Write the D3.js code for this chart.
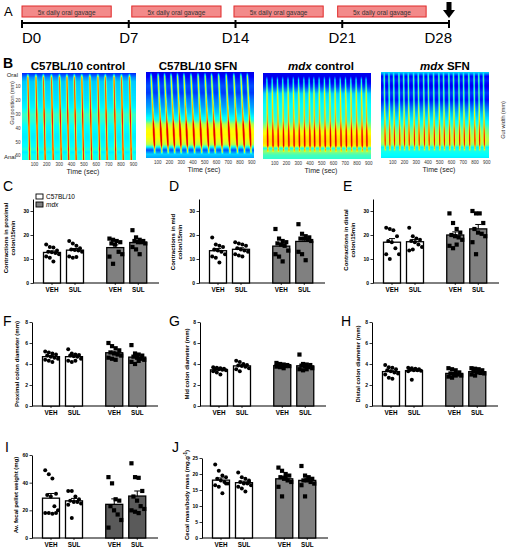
<!DOCTYPE html>
<html>
<head>
<meta charset="utf-8">
<script src="https://cdn.jsdelivr.net/npm/d3@7"></script>
<style>
  body { margin: 0; background: #fff; }
  svg { display: block; }
  text { font-family: "Liberation Sans", Arial, sans-serif; }
</style>
</head>
<body>
<svg id="fig" width="510" height="550"></svg>
<script>
// ---------- data ----------
// A: timeline (days)
const timelineDays = [0, 7, 14, 21, 28];
const gavageStart = [0, 7.2, 13.9, 20.7];
const gavageEnd = [5.85, 13.05, 19.75, 26.5];
const gavageText = '5x daily oral gavage';

// B: spatiotemporal maps
const mapTitles = ['C57BL/10 control', 'C57BL/10 SFN', 'mdx control', 'mdx SFN'];
const depthStops = [0, 3, 6, 10, 15, 20, 25, 30, 35, 38, 42, 46, 50, 53, 55, 57, 60, 63];
const profileWtCtl = [0.16, 0.26, 0.32, 0.33, 0.34, 0.35, 0.37, 0.43, 0.41, 0.38, 0.37, 0.36, 0.37, 0.38, 0.41, 0.36, 0.39, 0.39];
const profileWtSfn = [0.10, 0.12, 0.16, 0.20, 0.18, 0.24, 0.28, 0.33, 0.40, 0.55, 0.62, 0.63, 0.60, 0.55, 0.35, 0.20, 0.33, 0.28];
const profileMdxCtl = [0.11, 0.10, 0.10, 0.18, 0.33, 0.36, 0.38, 0.40, 0.43, 0.50, 0.60, 0.64, 0.66, 0.64, 0.38, 0.52, 0.44, 0.42];
const profileMdxSfn = [0.33, 0.12, 0.16, 0.10, 0.18, 0.13, 0.22, 0.30, 0.36, 0.40, 0.48, 0.53, 0.56, 0.52, 0.36, 0.40, 0.38, 0.36];
const contrWtCtl = [45, 110, 170, 235, 300, 360, 420, 480, 545, 610, 670, 740, 800, 865];
const contrWtSfn = [40, 100, 155, 210, 265, 320, 380, 440, 500, 555, 615, 680, 745, 805, 860];
const contrMdxCtl = [30, 75, 120, 165, 210, 255, 300, 345, 390, 430, 475, 520, 565, 610, 655, 700, 745, 790, 835, 875];
const contrMdxSfn = [25, 65, 105, 150, 190, 230, 275, 315, 360, 400, 445, 490, 530, 575, 615, 660, 700, 745, 790, 830, 870];
const timeTicks = [100, 200, 300, 400, 500, 600, 700, 800, 900];
const depthTicks = [10, 20, 30, 40, 50, 60];

// C-J: group order C57BL/10 VEH, C57BL/10 SUL, mdx VEH, mdx SUL
const groupLabels = ['VEH', 'SUL', 'VEH', 'SUL'];
const strainNames = ['C57BL/10', 'mdx'];

const proximalContr = [
  [16, 15, 14.8, 13.5, 13, 12.8, 12.5, 12, 11, 10.5, 9],
  [17.5, 16.5, 15.5, 14.5, 14, 13.8, 13.5, 13, 11, 10.5, 10.8],
  [18.5, 18, 17.5, 17, 16.5, 16, 13, 12, 11, 8],
  [22, 19, 18, 17.5, 17.5, 17, 17, 16.5, 15, 14, 12]
];
const midContr = [
  [19, 16, 15.5, 15, 14, 13.5, 13, 12, 11, 10.5, 8.5],
  [17, 16.5, 16, 15.5, 14.5, 14, 13.5, 13, 12, 11.5, 11],
  [22.5, 18.5, 17.5, 17, 16.5, 16, 15.5, 13.5, 12, 11, 9],
  [24.5, 20.5, 19.5, 19, 18.5, 18.5, 18, 17.5, 13, 12, 9.5]
];
const distalContr = [
  [23, 22.5, 22, 19.5, 17.5, 17, 14.5, 12, 12, 10],
  [23, 19.5, 18.5, 18, 17.5, 17, 16, 15, 13.5, 14],
  [29, 25, 22.5, 21, 20, 19.5, 19, 18, 15.5, 14.5, 16],
  [30, 29, 29, 25, 22.5, 21, 20.5, 19.5, 17, 12]
];
const proximalDiam = [
  [5.2, 5.1, 5.0, 4.9, 4.8, 4.7, 4.6, 4.5, 4.4, 4.3, 4.2],
  [5.4, 5.0, 4.9, 4.85, 4.8, 4.75, 4.7, 4.5, 4.3, 4.2, 4.3],
  [6.0, 5.7, 5.5, 5.3, 5.1, 5.0, 4.9, 4.8, 4.6, 4.5, 4.4],
  [5.8, 5.0, 4.9, 4.8, 4.7, 4.6, 4.5, 4.4, 4.2, 4.0, 4.3]
];
const midDiam = [
  [3.7, 3.65, 3.6, 3.55, 3.5, 3.5, 3.45, 3.4, 3.3, 3.2, 3.0],
  [4.3, 4.2, 4.0, 3.9, 3.85, 3.8, 3.75, 3.6, 3.5, 3.3],
  [4.1, 4.0, 3.95, 3.9, 3.9, 3.85, 3.8, 3.8, 3.75, 3.7, 3.6],
  [4.9, 4.0, 3.95, 3.9, 3.85, 3.8, 3.7, 3.6, 3.5, 3.4, 3.5]
];
const distalDiam = [
  [3.9, 3.7, 3.65, 3.5, 3.4, 3.3, 3.2, 3.1, 3.0, 2.7, 2.6],
  [3.65, 3.6, 3.55, 3.5, 3.45, 3.4, 3.4, 3.35, 3.3, 2.5],
  [3.6, 3.5, 3.4, 3.2, 3.1, 3.05, 3.0, 2.9, 2.8, 2.7, 2.9],
  [3.6, 3.55, 3.5, 3.4, 3.3, 3.2, 3.15, 3.1, 3.0, 2.9]
];
const pelletWeight = [
  [49, 46, 43, 32, 31, 30, 23, 20, 18, 18, 17.5, 18],
  [34, 34, 30, 28, 27, 26, 26, 25, 24, 14.5],
  [44, 39.5, 28, 27, 23, 20, 17, 13, 7.5],
  [54, 44, 43.5, 34, 30, 27, 23, 21, 20, 19, 18]
];
const cecalMass = [
  [23, 21, 19.5, 19, 18.5, 18, 17.5, 17, 16.5, 16, 14, 17],
  [20.5, 19, 18.5, 18, 17.5, 17, 17, 16.5, 16, 15.5, 14.5, 17.5],
  [22, 21, 20, 19.5, 19, 18.5, 18, 17.5, 16, 13, 19],
  [22.5, 19.5, 19, 18.5, 18, 18, 17.5, 17, 16.5, 13, 18.5]
];

const svg = d3.select('#fig');

// ---------- A: timeline ----------
const tl = d3.scaleLinear().domain([0, 28]).range([22, 449]);

svg.append('text').attr('x', 4).attr('y', 16).style('font-size', '13px').text('A');

svg.selectAll('.gav')
  .data(gavageStart)
  .enter()
  .append('rect')
  .attr('class', 'gav')
  .attr('x', d => tl(d))
  .attr('y', 6)
  .attr('width', (d, i) => tl(gavageEnd[i]) - tl(d))
  .attr('height', 11)
  .attr('fill', '#f38a8a')
  .attr('stroke', '#e02a2a')
  .attr('stroke-width', 1);

svg.selectAll('.gavtxt')
  .data(gavageStart)
  .enter()
  .append('text')
  .attr('x', (d, i) => (tl(d) + tl(gavageEnd[i])) / 2)
  .attr('y', 14.5)
  .attr('text-anchor', 'middle')
  .style('font-size', '6.5px')
  .attr('fill', '#333')
  .text(gavageText);

svg.append('line')
  .attr('x1', tl(0)).attr('x2', tl(28))
  .attr('y1', 23).attr('y2', 23)
  .attr('stroke', '#000').attr('stroke-width', 2);

svg.selectAll('.dtick')
  .data(timelineDays)
  .enter()
  .append('line')
  .attr('x1', d => tl(d)).attr('x2', d => tl(d))
  .attr('y1', 20).attr('y2', 28)
  .attr('stroke', '#000').attr('stroke-width', 2);

svg.selectAll('.dlab')
  .data(timelineDays)
  .enter()
  .append('text')
  .attr('x', d => tl(d))
  .attr('y', 43)
  .attr('text-anchor', (d, i) => i === 0 ? 'start' : (i === timelineDays.length - 1 ? 'end' : 'middle'))
  .attr('dx', (d, i) => i === timelineDays.length - 1 ? 3 : 0)
  .style('font-size', '15px')
  .text(d => 'D' + d);

// arrow at the end day
const ax = tl(28);
svg.append('path')
  .attr('d', `M${ax - 2.5},2 L${ax + 2.5},2 L${ax + 2.5},10 L${ax + 6},10 L${ax},18 L${ax - 6},10 L${ax - 2.5},10 Z`)
  .attr('fill', '#000');

// ---------- B: spatiotemporal maps ----------
svg.append('text').attr('x', 3).attr('y', 68).style('font-size', '14px').style('font-weight', 'bold').text('B');

const jet = d3.scaleLinear()
  .domain([0, 0.125, 0.375, 0.625, 0.875, 1])
  .range(['#00008f', '#0000ff', '#00ffff', '#ffff00', '#ff0000', '#800000'])
  .clamp(true);
const lut = d3.range(256).map(i => d3.rgb(jet(i / 255)));

const maps = [
  { title: mapTitles[0], profile: profileWtCtl, contr: contrWtCtl, lag: 15, amp: 0.5, sigma: 5, ext: [3, 63], box: [22, 136, 73, 160], cx: 78 },
  { title: mapTitles[1], profile: profileWtSfn, contr: contrWtSfn, lag: 35, amp: 0.45, sigma: 5, ext: [3, 58], box: [146, 254, 72, 158], cx: 198 },
  { title: mapTitles[2], profile: profileMdxCtl, contr: contrMdxCtl, lag: 10, amp: 0.32, sigma: 4.5, ext: [5, 56], box: [263, 371, 73, 159], cx: 321 },
  { title: mapTitles[3], profile: profileMdxSfn, contr: contrMdxSfn, lag: 10, amp: 0.35, sigma: 4.5, ext: [3, 56], box: [381, 489, 72, 158], cx: 445 }
];

maps.forEach((m, mi) => {
  const [x0, x1, y0, y1] = m.box;
  const tScale = d3.scaleLinear().domain([0, 920]).range([x0, x1]);
  const dScale = d3.scaleLinear().domain([0, 63]).range([y0, y1]);
  const bg = d3.scaleLinear().domain(depthStops).range(m.profile).clamp(true);

  const res = 2;
  const W = Math.round((x1 - x0) * res), H = Math.round((y1 - y0) * res);
  const canvas = document.createElement('canvas');
  canvas.width = W; canvas.height = H;
  const ctx = canvas.getContext('2d');
  const img = ctx.createImageData(W, H);
  const sigma = m.sigma;
  for (let py = 0; py < H; py++) {
    const d = dScale.invert(y0 + py / res);
    const base = bg(d);
    let fade = 1;
    if (d < m.ext[0]) fade = Math.max(0, 1 - (m.ext[0] - d) / 3);
    if (d > m.ext[1]) fade = Math.max(0, 1 - (d - m.ext[1]) / 2);
    for (let px = 0; px < W; px++) {
      const t = tScale.invert(x0 + px / res);
      let gmax = 0;
      for (const t0 of m.contr) {
        const tc = t0 + m.lag * d / 63;
        const dt = t - tc;
        if (Math.abs(dt) < 4 * sigma) {
          const gv = Math.exp(-dt * dt / (2 * sigma * sigma));
          if (gv > gmax) gmax = gv;
        }
      }
      const v = Math.min(0.9, base + m.amp * gmax * fade);
      const c = lut[Math.round(v * 255)];
      const k = (py * W + px) * 4;
      img.data[k] = c.r; img.data[k + 1] = c.g; img.data[k + 2] = c.b; img.data[k + 3] = 255;
    }
  }
  ctx.putImageData(img, 0, 0);

  svg.append('image')
    .attr('x', x0).attr('y', y0)
    .attr('width', x1 - x0).attr('height', y1 - y0)
    .attr('preserveAspectRatio', 'none')
    .attr('href', canvas.toDataURL());

  // title
  const title = svg.append('text')
    .attr('x', m.cx).attr('y', 70)
    .attr('text-anchor', 'middle')
    .style('font-size', '11.5px')
    .style('font-weight', 'bold');
  if (m.title.startsWith('mdx')) {
    title.append('tspan').style('font-style', 'italic').text('mdx');
    title.append('tspan').text(m.title.slice(3));
  } else {
    title.text(m.title);
  }

  // time ticks
  svg.selectAll(null)
    .data(timeTicks)
    .enter()
    .append('text')
    .attr('x', d => tScale(d))
    .attr('y', y1 + 5.5)
    .attr('text-anchor', 'middle')
    .style('font-size', '4.5px')
    .attr('fill', '#333')
    .text(d => d);

  svg.append('text')
    .attr('x', (x0 + x1) / 2 + 4)
    .attr('y', y1 + 14)
    .attr('text-anchor', 'middle')
    .style('font-size', '7px')
    .attr('fill', '#222')
    .text('Time (sec)');

  if (mi === 0) {
    svg.selectAll(null)
      .data(depthTicks)
      .enter()
      .append('text')
      .attr('x', x0 - 1.5)
      .attr('y', d => dScale(d) + 1.5)
      .attr('text-anchor', 'end')
      .style('font-size', '4.5px')
      .attr('fill', '#333')
      .text(d => d);
    svg.append('text').attr('x', 18).attr('y', 77).attr('text-anchor', 'end')
      .style('font-size', '6px').attr('fill', '#222').text('Oral');
    svg.append('text').attr('x', 16).attr('y', 159).attr('text-anchor', 'end')
      .style('font-size', '6px').attr('fill', '#222').text('Anal');
    svg.append('text')
      .attr('transform', 'translate(14,103) rotate(-90)')
      .attr('text-anchor', 'middle')
      .style('font-size', '5.5px')
      .attr('fill', '#333')
      .text('Gut position (mm)');
  }
});

svg.append('text')
  .attr('transform', 'translate(505,120) rotate(-90)')
  .attr('text-anchor', 'middle')
  .style('font-size', '5.5px')
  .attr('fill', '#333')
  .text('Gut width (mm)');

// ---------- C-J: bar + scatter panels ----------
const barSlots = [0, 1, 2.75, 3.75];

const panels = [
  { letter: 'C', lx: 3, ly: 191, x0: 33, y0: 283, yTop: 199, max: 35, ticks: [0, 10, 20, 30], data: proximalContr,
    ylab: ['Contractions in proximal', 'colon/15min'], labX: 8, labY: 238, legend: true },
  { letter: 'D', lx: 169, ly: 191, x0: 199, y0: 283, yTop: 199, max: 35, ticks: [0, 10, 20, 30], data: midContr,
    ylab: ['Contractions in mid', 'colon/15min'], labX: 175, labY: 242 },
  { letter: 'E', lx: 343, ly: 191, x0: 373, y0: 283, yTop: 199, max: 35, ticks: [0, 10, 20, 30], data: distalContr,
    ylab: ['Contractions in distal', 'colon/15min'], labX: 348, labY: 240 },
  { letter: 'F', lx: 3, ly: 326, x0: 32, y0: 406, yTop: 322, max: 8, ticks: [0, 2, 4, 6, 8], data: proximalDiam,
    ylab: ['Proximal colon diameter (mm)'], labX: 19, labY: 364 },
  { letter: 'G', lx: 169, ly: 326, x0: 200, y0: 406, yTop: 322, max: 8, ticks: [0, 2, 4, 6, 8], data: midDiam,
    ylab: ['Mid colon diameter (mm)'], labX: 189, labY: 364 },
  { letter: 'H', lx: 341, ly: 326, x0: 372, y0: 406, yTop: 322, max: 8, ticks: [0, 2, 4, 6, 8], data: distalDiam,
    ylab: ['Distal colon diameter (mm)'], labX: 360, labY: 364 },
  { letter: 'I', lx: 5, ly: 452, x0: 32, y0: 538, yTop: 455, max: 60, ticks: [0, 20, 40, 60], data: pelletWeight,
    ylab: ['Av. fecal pellet weight (mg)'], labX: 18, labY: 495, mdxFill: '#5a5a5a' },
  { letter: 'J', lx: 172, ly: 452, x0: 202, y0: 538, yTop: 458, max: 25, ticks: [0, 5, 10, 15, 20, 25], data: cecalMass,
    ylab: ['Cecal mass/body mass (mg.g'], labX: 189, labY: 495, sup: '-1' }
];

function drawPanel(p) {
  const g = svg.append('g');
  const y = d3.scaleLinear().domain([0, p.max]).range([p.y0, p.yTop]);
  const x = d3.scaleLinear().domain([0, 1]).range([p.x0 + 19, p.x0 + 42]);
  const bw = 17;
  const mdxFill = p.mdxFill || '#808080';

  g.append('text').attr('x', p.lx).attr('y', p.ly).style('font-size', '14px').text(p.letter);

  // y axis
  const yAxis = g.append('g')
    .attr('transform', `translate(${p.x0},0)`)
    .call(d3.axisLeft(y).tickValues(p.ticks).tickSize(2.5).tickSizeOuter(0).tickPadding(1.5));
  yAxis.select('.domain').attr('stroke', '#000').attr('stroke-width', 1);
  yAxis.selectAll('.tick line').attr('stroke', '#000').attr('stroke-width', 0.8);
  yAxis.selectAll('.tick text').style('font-size', '5px').style('font-weight', 'bold')
    .style('font-family', '"Liberation Sans", Arial, sans-serif').attr('fill', '#000');

  // x axis line
  g.append('line')
    .attr('x1', p.x0).attr('x2', p.x0 + 126)
    .attr('y1', p.y0).attr('y2', p.y0)
    .attr('stroke', '#000').attr('stroke-width', 1);

  const stats = p.data.map(vals => {
    const mean = d3.mean(vals);
    const sem = d3.deviation(vals) / Math.sqrt(vals.length);
    return { mean, sem };
  });

  // bars
  g.selectAll('.bar')
    .data(stats)
    .enter()
    .append('rect')
    .attr('x', (d, i) => x(barSlots[i]) - bw / 2)
    .attr('y', d => y(d.mean))
    .attr('width', bw)
    .attr('height', d => p.y0 - y(d.mean))
    .attr('fill', (d, i) => i < 2 ? '#fff' : mdxFill)
    .attr('stroke', '#000')
    .attr('stroke-width', 1.3);

  // SEM error bars
  g.selectAll('.err')
    .data(stats)
    .enter()
    .append('path')
    .attr('d', (d, i) => {
      const cx = x(barSlots[i]);
      const top = y(d.mean + d.sem);
      return `M${cx},${y(d.mean)} V${top} M${cx - 3},${top} H${cx + 3}`;
    })
    .attr('fill', 'none')
    .attr('stroke', '#000')
    .attr('stroke-width', 1);

  // points
  p.data.forEach((vals, gi) => {
    const cx = x(barSlots[gi]);
    const pts = vals.map((v, i) => ({ v, off: ((i % 4) - 1.5) * 3.6 + (Math.floor(i / 4) % 2 ? 1.6 : -0.4) }));
    if (gi < 2) {
      g.selectAll(null)
        .data(pts)
        .enter()
        .append('circle')
        .attr('cx', d => cx + d.off)
        .attr('cy', d => y(d.v))
        .attr('r', 2)
        .attr('fill', '#000');
    } else {
      g.selectAll(null)
        .data(pts)
        .enter()
        .append('rect')
        .attr('x', d => cx + d.off - 2.1)
        .attr('y', d => y(d.v) - 2.1)
        .attr('width', 4.2)
        .attr('height', 4.2)
        .attr('fill', '#000');
    }
  });

  // category ticks and labels
  g.selectAll('.xt')
    .data(groupLabels)
    .enter()
    .append('line')
    .attr('x1', (d, i) => x(barSlots[i])).attr('x2', (d, i) => x(barSlots[i]))
    .attr('y1', p.y0).attr('y2', p.y0 + 2)
    .attr('stroke', '#000').attr('stroke-width', 0.8);

  g.selectAll('.xl')
    .data(groupLabels)
    .enter()
    .append('text')
    .attr('x', (d, i) => x(barSlots[i]))
    .attr('y', p.y0 + 9)
    .attr('text-anchor', 'middle')
    .style('font-size', '6.3px')
    .style('font-weight', 'bold')
    .text(d => d);

  // y label
  p.ylab.forEach((line, li) => {
    const t = g.append('text')
      .attr('transform', `translate(${p.labX + li * 7},${p.labY}) rotate(-90)`)
      .attr('text-anchor', 'middle')
      .style('font-size', '6px')
      .style('font-weight', 'bold')
      .text(line);
    if (p.sup && li === p.ylab.length - 1) {
      t.append('tspan').attr('dy', -2).style('font-size', '4.5px').text(p.sup);
      t.append('tspan').attr('dy', 2).text(')');
    }
  });

  if (p.legend) {
    const lg = g.append('g');
    [0, 1].forEach(si => {
      lg.append('rect')
        .attr('x', p.x0 + 3).attr('y', 194 + si * 8)
        .attr('width', 7).attr('height', 5)
        .attr('fill', si === 0 ? '#fff' : mdxFill)
        .attr('stroke', '#000').attr('stroke-width', 0.9);
      lg.append('text')
        .attr('x', p.x0 + 13).attr('y', 199 + si * 8)
        .style('font-size', '6.5px')
        .style('font-style', si === 1 ? 'italic' : 'normal')
        .text(strainNames[si]);
    });
  }
}

panels.forEach(drawPanel);
</script>
</body>
</html>
